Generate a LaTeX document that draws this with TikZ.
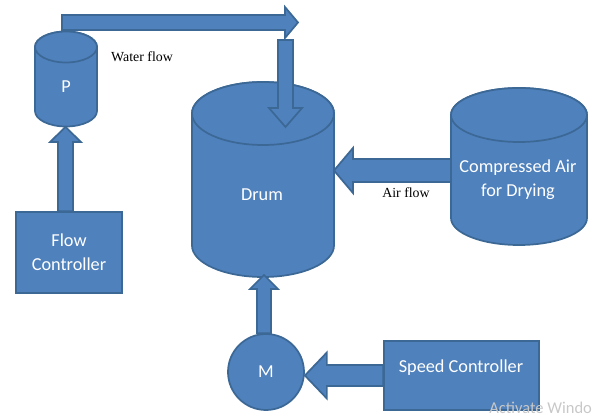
\documentclass[tikz,border=0pt]{standalone}
\usepackage{fontspec}
\setmainfont{Carlito}
\newfontfamily\seriffont{Liberation Serif}
\usetikzlibrary{calc}
\definecolor{blfill}{HTML}{4F81BD}
\definecolor{bldraw}{HTML}{3C6896}
\definecolor{wmark}{HTML}{C8C8C8}
\tikzset{
  shapestyle/.style={fill=blfill, draw=bldraw, line width=1.3pt, line join=miter},
  lbl/.style={text=white, font=\fontsize{13.7}{18}\selectfont, inner sep=0pt, align=center},
  flowlbl/.style={text=black, font=\seriffont\fontsize{10.4}{12}\selectfont, inner sep=0pt},
  boxstyle/.style={shapestyle, rectangle, inner sep=0pt},
}
% cylinder: cx, topY, botY, rx, ry (pixels)
\newcommand\cyl[5]{%
  \path[shapestyle] (#1-#4,#2) -- (#1-#4,#3)
    arc[start angle=180, end angle=360, x radius=#4*0.75pt, y radius=#5*0.75pt]
    -- (#1+#4,#2)
    arc[start angle=0, end angle=180, x radius=#4*0.75pt, y radius=#5*0.75pt] -- cycle;
  \path[shapestyle] (#1,#2) ellipse[x radius=#4*0.75pt, y radius=#5*0.75pt];
}
% block arrow: tail, tip, shaft half width, head half width, head length
\newcommand\blockarrow[5]{%
  \coordinate (banb) at ($(#2)!#5!(#1)$);
  \path[shapestyle] ($(#1)!#3!90:(#2)$) -- ($(banb)!#3!90:(#2)$) -- ($(banb)!#4!90:(#2)$)
    -- (#2) -- ($(banb)!#4!-90:(#2)$) -- ($(banb)!#3!-90:(#2)$) -- ($(#1)!#3!-90:(#2)$) -- cycle;
}
\begin{document}
\begin{tikzpicture}[x=0.75pt,y=0.75pt]
\useasboundingbox (0,0) rectangle (601,418);
\clip (0,0) rectangle (601,418);

% cylinders
\cyl{66}{371}{307}{31}{15.5}
\cyl{263}{304.5}{172.5}{71}{31.5}
\cyl{519}{303}{200}{68}{27}

% boxes and motor
\node[boxstyle, minimum width=79.5pt, minimum height=60.75pt, lbl] (fc) at (69,165.5) {Flow\\Controller};
\node[boxstyle, minimum width=116.25pt, minimum height=51.75pt] (sc) at (461.5,42.5) {};
\node[shapestyle, circle, minimum size=57pt, inner sep=0pt, lbl] (m) at (266,46) {M};

% text labels
\node[lbl] (plbl) at (66,331) {P};
\node[lbl] (drumlbl) at (262,223) {Drum};
\node[lbl] (airlbl) at (518,238) {Compressed Air\\for Drying};
\node[lbl] (sclbl) at (461,50) {Speed Controller};
\node[flowlbl] (wflow) at (142,361) {Water flow};
\node[flowlbl] (aflow) at (406,225) {Air flow};

% connector coordinates
\coordinate (pbot) at (65.5,291);
\coordinate (wstart) at (62,395.5);
\coordinate (wend) at (298,395.5);
\coordinate (dstart) at (285.5,378);
\coordinate (dend) at (285.5,291);
\coordinate (airleft) at (451,247.5);
\coordinate (drumright) at (334,247.5);
\coordinate (drumbot) at (264,143);

% block arrows
\blockarrow{wstart}{wend}{5.6pt}{11.6pt}{9.75pt}
\blockarrow{dstart}{dend}{5.6pt}{12.4pt}{14.25pt}
\blockarrow{airleft}{drumright}{8.6pt}{16.9pt}{14.25pt}
\blockarrow{pbot |- fc.north}{pbot}{5.6pt}{11.6pt}{11.25pt}
\blockarrow{drumbot |- m.north}{drumbot}{5.25pt}{10.5pt}{10.5pt}
\blockarrow{sc.west}{m.east |- sc.west}{7.9pt}{17.25pt}{16.5pt}

% watermark
\node[anchor=base west, inner sep=0pt, text=wmark, font=\fontsize{12.4}{14}\selectfont] (wm) at (489,4) {Activate Windo};
\end{tikzpicture}
\end{document}
